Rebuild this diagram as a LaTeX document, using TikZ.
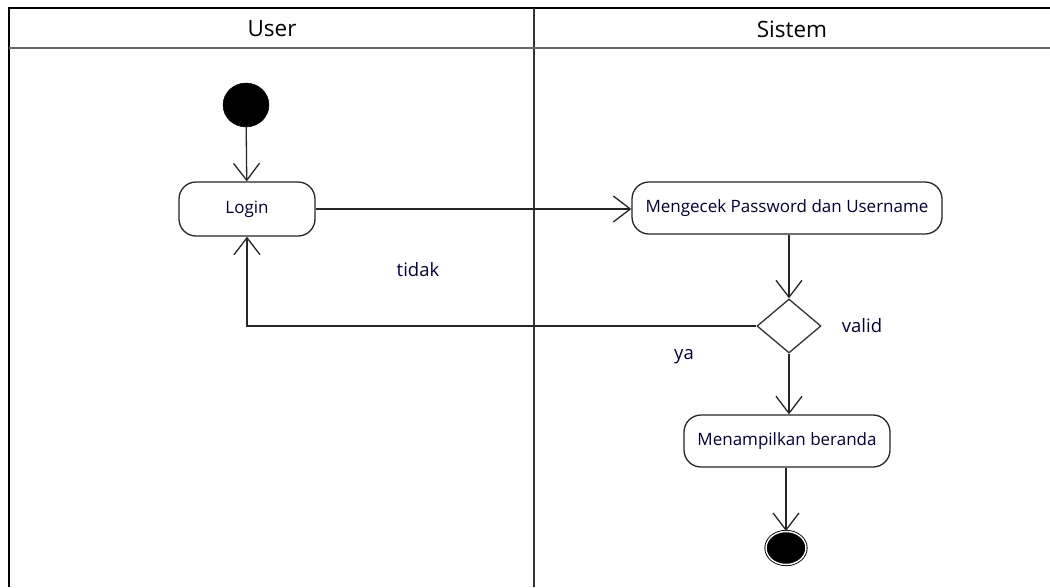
\documentclass[tikz,border=0pt]{standalone}
\usepackage{fontspec}
\setmainfont{Open Sans}
\usetikzlibrary{arrows.meta,shapes.geometric,calc}
\tikzset{
  act/.style={draw=black!85, line width=1.3pt, rounded corners=17pt, fill=white, inner sep=0pt, font=\fontsize{17}{19}\selectfont, text=black!80!blue},
  startnode/.style={ellipse, fill=black, draw=black, minimum width=46pt, minimum height=44pt, inner sep=0pt},
  endnode/.style={ellipse, fill=black, draw=black, double=white, double distance=1.4pt, line width=0.9pt, minimum width=40pt, minimum height=33pt, inner sep=0pt},
  dec/.style={diamond, draw=black!80, line width=1.3pt, fill=white, minimum width=64pt, minimum height=54pt, inner sep=0pt},
  arr/.style={draw=black!85, line width=1.3pt, -{Straight Barb[length=17pt, width=26pt, line width=1.3pt]}},
  lbl/.style={font=\fontsize{18.5}{21}\selectfont, text=black!80!blue},
  hdr/.style={font=\fontsize{22.5}{25}\selectfont}
}
\begin{document}
\begin{tikzpicture}[x=1pt, y=-1pt]
\useasboundingbox (0,0) rectangle (1050,587);
% swimlanes
\coordinate (tl) at (9,8);
\coordinate (bl) at (9,587);
\coordinate (tr) at (1050,8);
\coordinate (dt) at (534,8);
\coordinate (db) at (534,587);
\coordinate (hl) at (9,48);
\coordinate (hr) at (1050,48);
\draw[line width=1.8pt, black] (bl) -- (tl) -- (tr);
\draw[line width=1.8pt, black!80] (dt) -- (db);
\draw[line width=1.8pt, black!60] (hl) -- (hr);
\node[hdr] (user) at (272,29) {User};
\node[hdr] (sistem) at (792,29) {Sistem};
% nodes
\node[startnode] (start) at (246,105) {};
\node[act, minimum width=136pt, minimum height=54pt] (login) at (247,209) {Login};
\node[act, minimum width=310pt, minimum height=52pt] (cek) at (787,208) {Mengecek Password dan Username};
\node[dec] (dec) at (789,326) {};
\node[act, minimum width=206pt, minimum height=52pt] (home) at (787,441) {Menampilkan beranda};
\node[endnode] (end) at (786,548) {};
% labels
\node[lbl] (tidak) at (418,270) {tidak};
\node[lbl] (valid) at (862,326) {valid};
\node[lbl] (ya) at (684,357) {ya};
% connectors
\draw[arr] (start) -- (login);
\draw[arr] (login.east) -- (login.east -| cek.west);
\draw[arr] (dec.north |- cek.south) -- (dec.north);
\draw[arr] (dec.west) -| (login.south);
\draw[arr] (dec.south) -- (dec.south |- home.north);
\draw[arr] (end.north |- home.south) -- (end.north);
\end{tikzpicture}
\end{document}
